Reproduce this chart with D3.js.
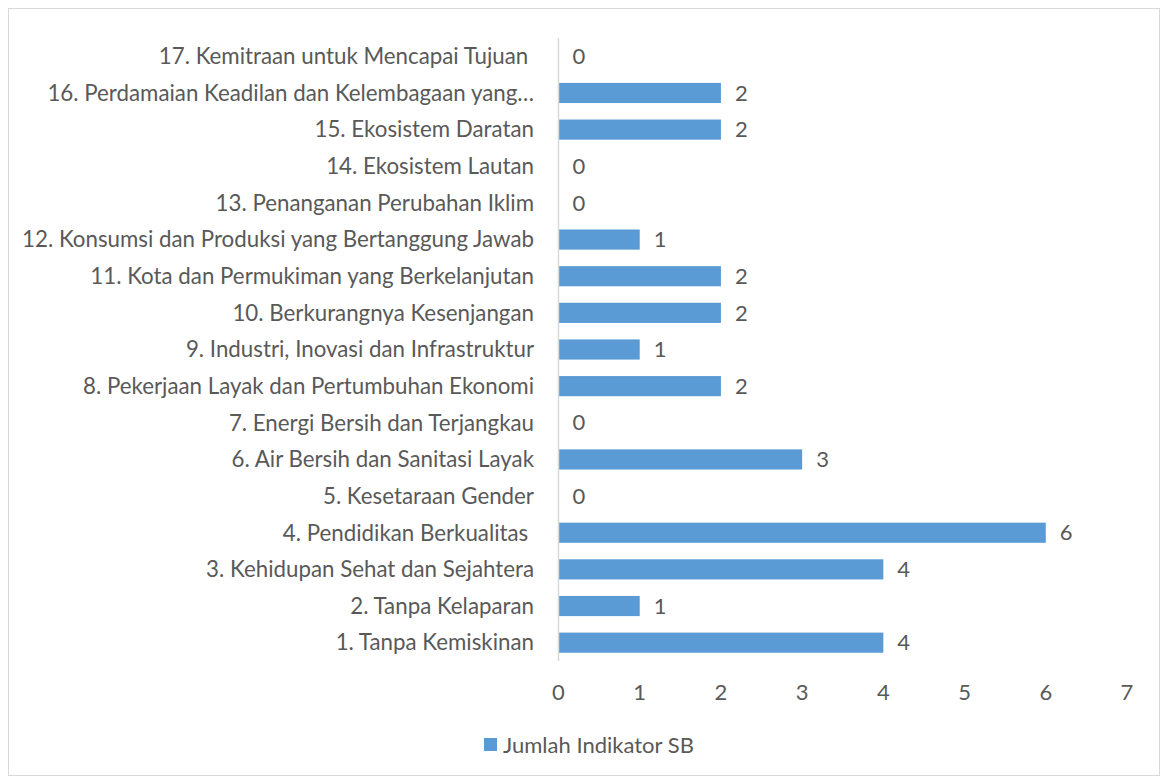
<!DOCTYPE html>
<html>
<head>
<meta charset="utf-8">
<script src="https://cdn.jsdelivr.net/npm/d3@7"></script>
<style>
  body { margin: 0; background: #fff; }
  text { font-family: Lato, "Noto Sans", sans-serif; fill: #595959; white-space: pre; }
</style>
</head>
<body>
<div id="chart"></div>
<script>
// categories, bottom to top as in the picture
const categories = [
  "1. Tanpa Kemiskinan",
  "2. Tanpa Kelaparan",
  "3. Kehidupan Sehat dan Sejahtera",
  "4. Pendidikan Berkualitas ",
  "5. Kesetaraan Gender",
  "6. Air Bersih dan Sanitasi Layak",
  "7. Energi Bersih dan Terjangkau",
  "8. Pekerjaan Layak dan Pertumbuhan Ekonomi",
  "9. Industri, Inovasi dan Infrastruktur",
  "10. Berkurangnya Kesenjangan",
  "11. Kota dan Permukiman yang Berkelanjutan",
  "12. Konsumsi dan Produksi yang Bertanggung Jawab",
  "13. Penanganan Perubahan Iklim",
  "14. Ekosistem Lautan",
  "15. Ekosistem Daratan",
  "16. Perdamaian Keadilan dan Kelembagaan yang…",
  "17. Kemitraan untuk Mencapai Tujuan "
];
const values = [4, 1, 4, 6, 0, 3, 0, 2, 1, 2, 2, 1, 0, 0, 2, 2, 0];
const xTicks = [0, 1, 2, 3, 4, 5, 6, 7];
const seriesName = "Jumlah Indikator SB";

let width = 1167,
  height = 781;

let svg = d3
  .select("#chart")
  .append("svg")
  .attr("width", width)
  .attr("height", height);

// outer frame
svg
  .append("rect")
  .attr("x", 8.5)
  .attr("y", 8.5)
  .attr("width", 1151)
  .attr("height", 767)
  .attr("fill", "none")
  .attr("stroke", "#d9d9d9");

let x = d3.scaleLinear().domain([0, 7]).range([558.5, 1127]);

let y = d3
  .scaleBand()
  .domain(categories)
  .range([661, 38])
  .paddingInner(0.45)
  .paddingOuter(0.225);

// bars
svg
  .selectAll("rect.bar")
  .data(values)
  .join("rect")
  .attr("class", "bar")
  .attr("x", x(0))
  .attr("y", (d, i) => y(categories[i]))
  .attr("width", (d) => x(d) - x(0))
  .attr("height", y.bandwidth())
  .attr("fill", "#5b9bd5");

// category axis line
svg
  .append("line")
  .attr("x1", x(0))
  .attr("x2", x(0))
  .attr("y1", 38)
  .attr("y2", 661)
  .attr("stroke", "#d9d9d9")
  .attr("stroke-width", 1.5);

// category labels
svg
  .selectAll("text.cat")
  .data(categories)
  .join("text")
  .attr("class", "cat")
  .attr("x", 534)
  .attr("y", (d) => y(d) + y.bandwidth() / 2)
  .attr("dy", "0.35em")
  .attr("text-anchor", "end")
  .style("font-size", "22.3px")
  .text((d) => d);

// value labels
svg
  .selectAll("text.val")
  .data(values)
  .join("text")
  .attr("class", "val")
  .attr("x", (d) => x(d) + 14)
  .attr("y", (d, i) => y(categories[i]) + y.bandwidth() / 2)
  .attr("dy", "0.35em")
  .style("font-size", "22px")
  .text((d) => d);

// x tick labels
svg
  .selectAll("text.tick")
  .data(xTicks)
  .join("text")
  .attr("class", "tick")
  .attr("x", (d) => x(d))
  .attr("y", 692)
  .attr("dy", "0.35em")
  .attr("text-anchor", "middle")
  .style("font-size", "22px")
  .text((d) => d);

// legend
svg
  .append("rect")
  .attr("x", 484)
  .attr("y", 738)
  .attr("width", 13)
  .attr("height", 13)
  .attr("fill", "#5b9bd5");

svg
  .append("text")
  .attr("x", 503)
  .attr("y", 745)
  .attr("dy", "0.35em")
  .style("font-size", "22px")
  .text(seriesName);
</script>
</body>
</html>
